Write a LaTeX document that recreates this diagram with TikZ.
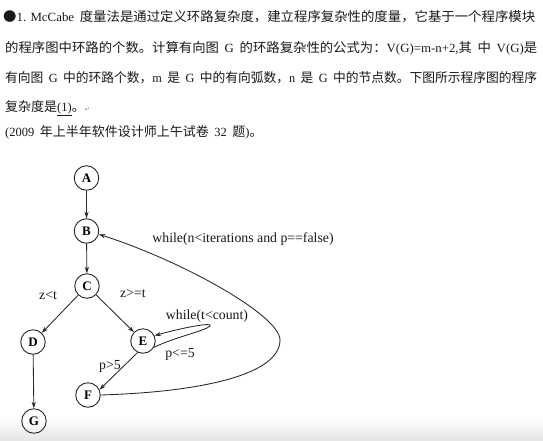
\documentclass[tikz,border=0pt]{standalone}
\usepackage{fontspec}
\usepackage{graphicx}
\usetikzlibrary{arrows.meta}
\newfontfamily\cjk{Noto Sans CJK SC}
\newfontfamily\la{Liberation Serif}
\newfontfamily\tms{Liberation Serif}
\newfontfamily\djv{DejaVu Sans}
\newcommand\Cx[1]{{\cjk\fontsize{13}{13}\selectfont #1}}
\newcommand\Lx[1]{{\la\fontsize{12.5}{13}\selectfont #1}}
\newcommand\spc{\hspace{5.5pt}}
\begin{document}
\begin{tikzpicture}[x=1pt,y=-1pt,
  txtline/.style={anchor=west,inner sep=0pt,text=black!90},
  vtx/.style={circle,draw=black!85,line width=0.9pt,minimum size=24.5pt,inner sep=0pt,font=\tms\bfseries\fontsize{13}{13}\selectfont},
  edge/.style={draw=black!85,line width=0.85pt,-{Stealth[length=6.5pt,width=4.2pt]}},
  lbl/.style={inner sep=0pt,font=\tms\fontsize{13.8}{14}\selectfont,text=black!90}]
\useasboundingbox (0,0) rectangle (543,440);
\fill[white] (0,0) rectangle (543,440);
\shade[top color=white,bottom color=black!10] (0,418) rectangle (543,440);
% text lines
\node[txtline] (l1) at (3,17) {\resizebox{532pt}{\height}{\Cx{●}\Lx{1. McCabe}\spc\Cx{度量法是通过定义环路复杂度，建立程序复杂性的度量，它基于一个程序模块}}};
\node[txtline] (l2) at (5,48) {\resizebox{532pt}{\height}{\Cx{的程序图中环路的个数。计算有向图}\spc\Lx{G}\spc\Cx{的环路复杂性的公式为：}\Lx{V(G)=m-n+2,}\Cx{其}\spc\Cx{中}\spc\Lx{V(G)}\Cx{是}}};
\node[txtline] (l3) at (5,78) {\resizebox{532pt}{\height}{\Cx{有向图}\spc\Lx{G}\spc\Cx{中的环路个数，}\Lx{m}\spc\Cx{是}\spc\Lx{G}\spc\Cx{中的有向弧数，}\Lx{n}\spc\Cx{是}\spc\Lx{G}\spc\Cx{中的节点数。下图所示程序图的程序}}};
\node[txtline] (l4) at (5,108) {\Cx{复杂度是}\Lx{\underline{(1)}}\Cx{。}{\djv\fontsize{6}{6}\selectfont\color{black!50}↵}};
\node[txtline] (l5) at (5,132) {\Lx{(2009}\spc\Cx{年上半年软件设计师上午试卷}\spc\Lx{32}\spc\Cx{题}\Lx{)}\Cx{。}};
% graph
\node[vtx] (A) at (86.5,178) {A};
\node[vtx] (B) at (86.5,231) {B};
\node[vtx] (C) at (87,286) {C};
\node[vtx] (D) at (33,342) {D};
\node[vtx] (E) at (143,341) {E};
\node[vtx] (F) at (88,395) {F};
\node[vtx] (G) at (34,421) {G};
\draw[edge] (A) -- (B);
\draw[edge] (B) -- (C);
\draw[edge] (C) -- (D);
\draw[edge] (C) -- (E);
\draw[edge] (D) -- (G);
\draw[edge] (E.-115) -- (F.25);
\coordinate (tip) at (210,326);
\draw[edge] (E.-30) .. controls (175,337) and (205,331) .. (tip)
  .. controls (214,322) and (185,327) .. (E.25);
\coordinate (far) at (280,340);
\draw[edge] (F.east) .. controls (200,392) and (280,375) .. (far)
  .. controls (280,315) and (180,260) .. (B.-15);
\node[lbl] (w1) at (243,239) {while(n<iterations and p==false)};
\node[lbl] (zl) at (48,296) {z<t};
\node[lbl] (zg) at (133,294) {z>=t};
\node[lbl] (w2) at (207,316) {while(t<count)};
\node[lbl] (pl) at (180,354) {p<=5};
\node[lbl] (pg) at (110,366) {p>5};
\end{tikzpicture}
\end{document}
